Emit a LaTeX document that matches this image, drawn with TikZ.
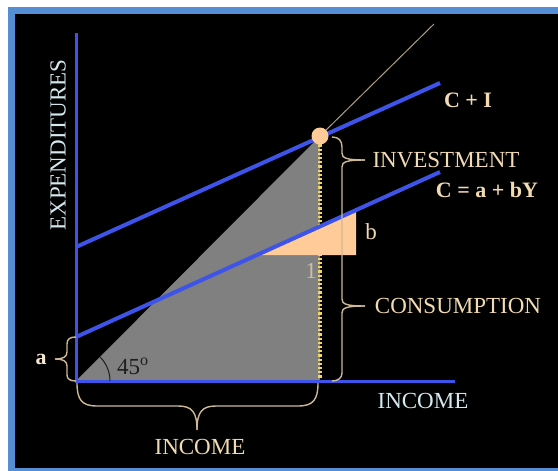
\documentclass[tikz,border=0pt]{standalone}
\usepackage{fontspec}
\setmainfont{Liberation Serif}
\definecolor{framecol}{RGB}{86,142,214}
\definecolor{lineblue}{RGB}{62,84,232}
\definecolor{peach}{RGB}{255,204,153}
\definecolor{txtpeach}{RGB}{242,218,178}
\definecolor{txtlight}{RGB}{212,232,238}
\definecolor{bracecol}{RGB}{205,185,150}
\definecolor{dotcol}{RGB}{240,215,95}
\definecolor{graytri}{RGB}{128,128,128}
\definecolor{onecol}{RGB}{205,190,165}
\definecolor{darktxt}{RGB}{30,30,30}
\begin{document}
\begin{tikzpicture}[x=1pt,y=-1pt,
  lbl/.style={inner sep=0pt,font=\fontsize{23}{27}\selectfont},
  blbl/.style={inner sep=0pt,font=\fontsize{22}{26}\selectfont\bfseries},
  curve/.style={lineblue,line width=4pt},
  axisline/.style={lineblue,line width=3pt},
  bracepath/.style={bracecol,line width=1.4pt},
  dotline/.style={dotcol,line width=3.2pt,dash pattern=on 2.2pt off 2pt}]
\useasboundingbox (0,0) rectangle (558,471);
\fill[white] (0,0) rectangle (558,471);
\fill[framecol] (8,7) rectangle (558,471);
\fill[black] (15,14) rectangle (558,468);

\coordinate (O) at (76,381);
\coordinate (E) at (320,136);
\coordinate (F) at (320,381);
\coordinate (Ytop) at (76,33);
\coordinate (Xend) at (455,381);
\coordinate (D) at (434,24);
\coordinate (CIa) at (76,247);
\coordinate (CIb) at (440,83);
\coordinate (Ca) at (76,337);
\coordinate (Cb) at (440,172);
\coordinate (T1) at (257,255);
\coordinate (T2) at (356,255);
\coordinate (T3) at (356,211);

\fill[graytri] (O) -- (E) -- (F) -- cycle;
\draw[dotline] (E) -- (F);
\fill[peach] (T1) -- (T2) -- (T3) -- cycle;
\draw[bracecol!85!black,line width=1pt] (E) -- (D);
\draw[axisline] (Ytop) -- (O) -- (Xend);
\draw[curve] (CIa) -- (CIb);
\draw[curve] (Ca) -- (Cb);
\fill[peach] (E) circle (8.5);
\draw[darktxt,line width=1pt] (110,381) arc[start angle=0,end angle=-45,radius=34];

% right brace (investment / consumption)
\draw[bracepath] (332,137) .. controls (339,137) and (342,141) .. (342,147) -- (342,153) .. controls (342,158) and (346,160) .. (365,160);
\draw[bracepath] (365,160) .. controls (346,160) and (342,162) .. (342,167) -- (342,299) .. controls (342,304) and (346,306) .. (365,306);
\draw[bracepath] (365,306) .. controls (346,306) and (342,308) .. (342,313) -- (342,373) .. controls (342,378) and (338,381) .. (332,381);
% left brace (a)
\draw[bracepath] (76,337) .. controls (70,337) and (67,339) .. (67,344) -- (67,352) .. controls (67,357) and (63,359) .. (55,359);
\draw[bracepath] (55,359) .. controls (63,359) and (67,361) .. (67,366) -- (67,375) .. controls (67,379) and (70,381) .. (76,381);
% bottom brace (income)
\draw[bracepath] (77,383) .. controls (77,400) and (82,406) .. (97,406) -- (178,406) .. controls (192,406) and (197,412) .. (197,430);
\draw[bracepath] (197,430) .. controls (197,412) and (202,406) .. (216,406) -- (298,406) .. controls (313,406) and (318,400) .. (318,383);

\node[blbl,txtpeach] (ci) at (468,100) {C + I};
\node[blbl,txtpeach] (cy) at (487,190) {C = a + bY};
\node[lbl,txtpeach] (inv) at (446,160) {INVESTMENT};
\node[lbl,txtpeach] (cons) at (458,306) {CONSUMPTION};
\node[lbl,txtpeach] (b) at (371,232) {b};
\node[lbl,onecol] (one) at (311,271) {1};
\node[blbl,txtpeach!60!white] (a) at (41,359) {a};
\node[lbl,darktxt] (deg) at (133,366) {45\textsuperscript{o}};
\node[lbl,txtpeach] (inc1) at (200,447) {INCOME};
\node[lbl,txtlight] (inc2) at (423,401) {INCOME};
\node[lbl,txtlight,rotate=90] (exp) at (58,145) {EXPENDITURES};
\end{tikzpicture}
\end{document}
